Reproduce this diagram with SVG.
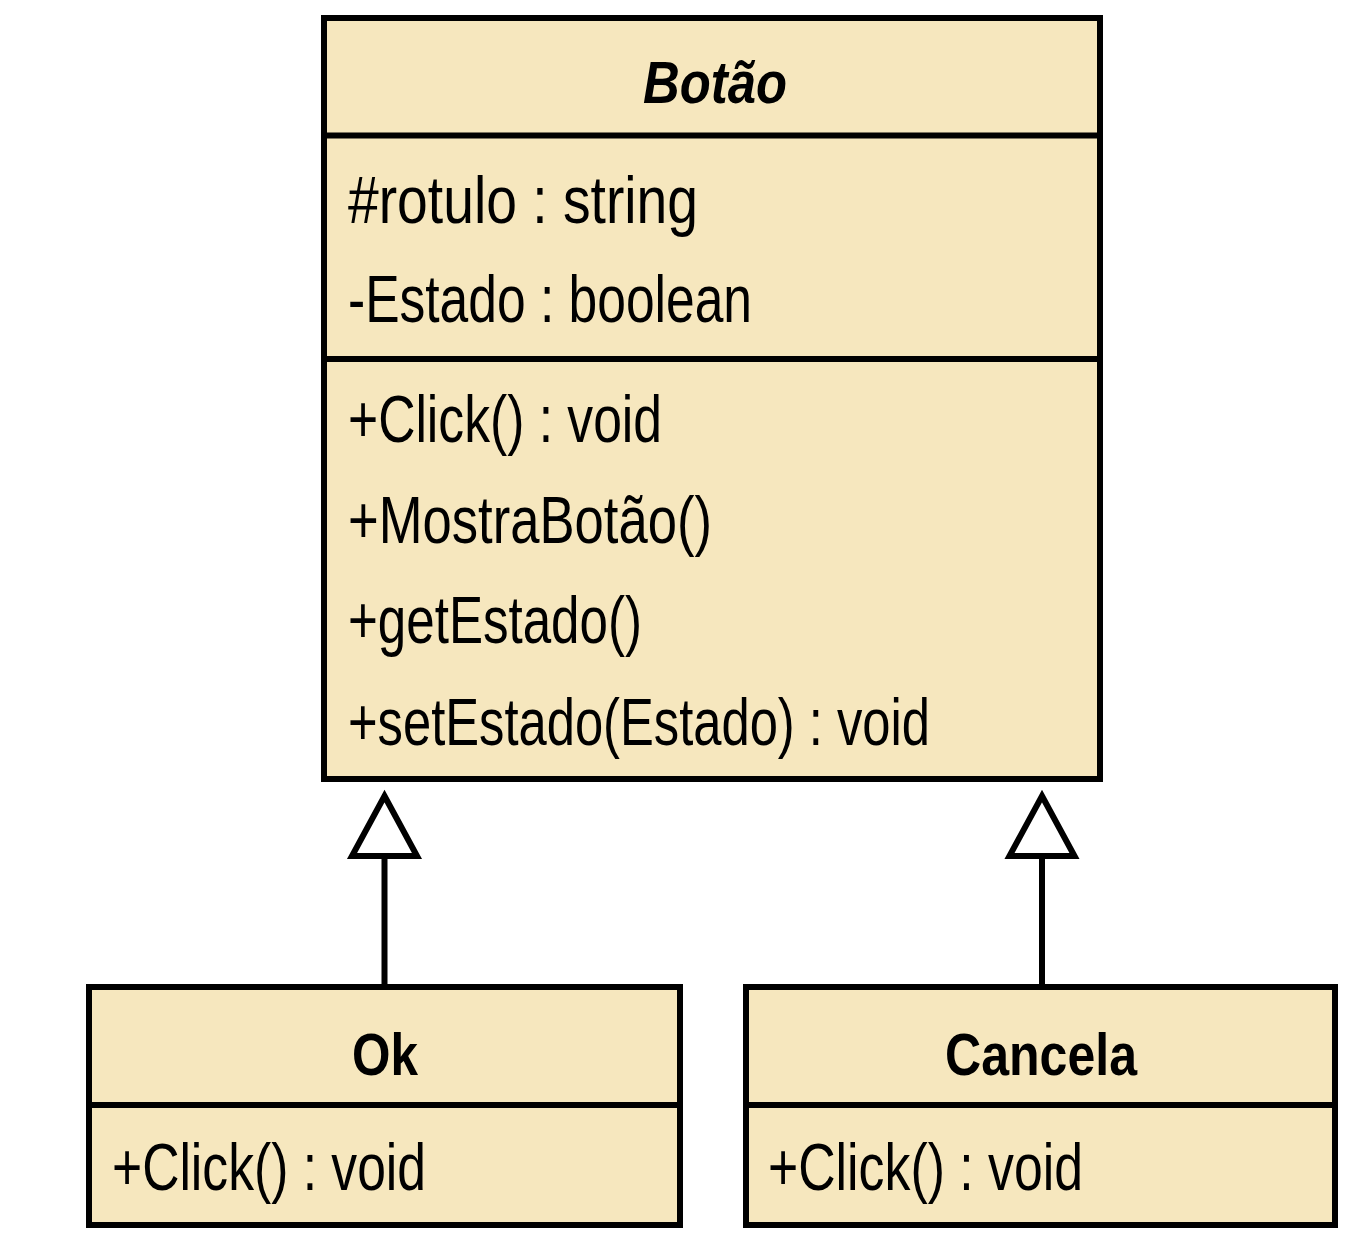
<svg xmlns="http://www.w3.org/2000/svg" width="1354" height="1244" viewBox="0 0 1354 1244">
<style>
.box{fill:#F6E7BE;stroke:#000;stroke-width:6}
.div{stroke:#000;stroke-width:6;fill:none}
.t{font-family:"Liberation Sans",Arial,sans-serif;font-size:66px;fill:#000}
.b{font-family:"Liberation Sans",Arial,sans-serif;font-size:60px;font-weight:bold;fill:#000}
.edge{stroke:#000;stroke-width:6;fill:none}
.tri{stroke:#000;stroke-width:6;fill:#fff;stroke-linejoin:miter}
</style>
<rect width="1354" height="1244" fill="#fff"/>
<g id="botao">
<rect class="box" x="324" y="18" width="776" height="761"/>
<line class="div" x1="324" y1="135.5" x2="1100" y2="135.5"/>
<line class="div" x1="324" y1="359" x2="1100" y2="359"/>
<text class="b" x="643" y="103" font-style="italic" textLength="144" lengthAdjust="spacingAndGlyphs">Botão</text>
<text class="t" x="348" y="223" textLength="350" lengthAdjust="spacingAndGlyphs">#rotulo : string</text>
<text class="t" x="348" y="322" textLength="404" lengthAdjust="spacingAndGlyphs">-Estado : boolean</text>
<text class="t" x="348" y="442" textLength="314" lengthAdjust="spacingAndGlyphs">+Click() : void</text>
<text class="t" x="348" y="543" textLength="364" lengthAdjust="spacingAndGlyphs">+MostraBotão()</text>
<text class="t" x="348" y="643" textLength="294" lengthAdjust="spacingAndGlyphs">+getEstado()</text>
<text class="t" x="348" y="745" textLength="582" lengthAdjust="spacingAndGlyphs">+setEstado(Estado) : void</text>
</g>
<g id="ok">
<rect class="box" x="89" y="987" width="591" height="238"/>
<line class="div" x1="89" y1="1105" x2="680" y2="1105"/>
<text class="b" x="352" y="1075" textLength="66" lengthAdjust="spacingAndGlyphs">Ok</text>
<text class="t" x="112" y="1190" textLength="314" lengthAdjust="spacingAndGlyphs">+Click() : void</text>
</g>
<g id="cancela">
<rect class="box" x="746" y="987" width="589" height="238"/>
<line class="div" x1="746" y1="1105" x2="1335" y2="1105"/>
<text class="b" x="945" y="1075" textLength="192" lengthAdjust="spacingAndGlyphs">Cancela</text>
<text class="t" x="768" y="1190" textLength="315" lengthAdjust="spacingAndGlyphs">+Click() : void</text>
</g>
<g id="connectors">
<line class="edge" x1="384.5" y1="856" x2="384.5" y2="987"/>
<polygon class="tri" points="384.5,796 417,856 352,856"/>
<line class="edge" x1="1042" y1="856" x2="1042" y2="987"/>
<polygon class="tri" points="1042,796 1074.5,856 1009.5,856"/>
</g>
</svg>
